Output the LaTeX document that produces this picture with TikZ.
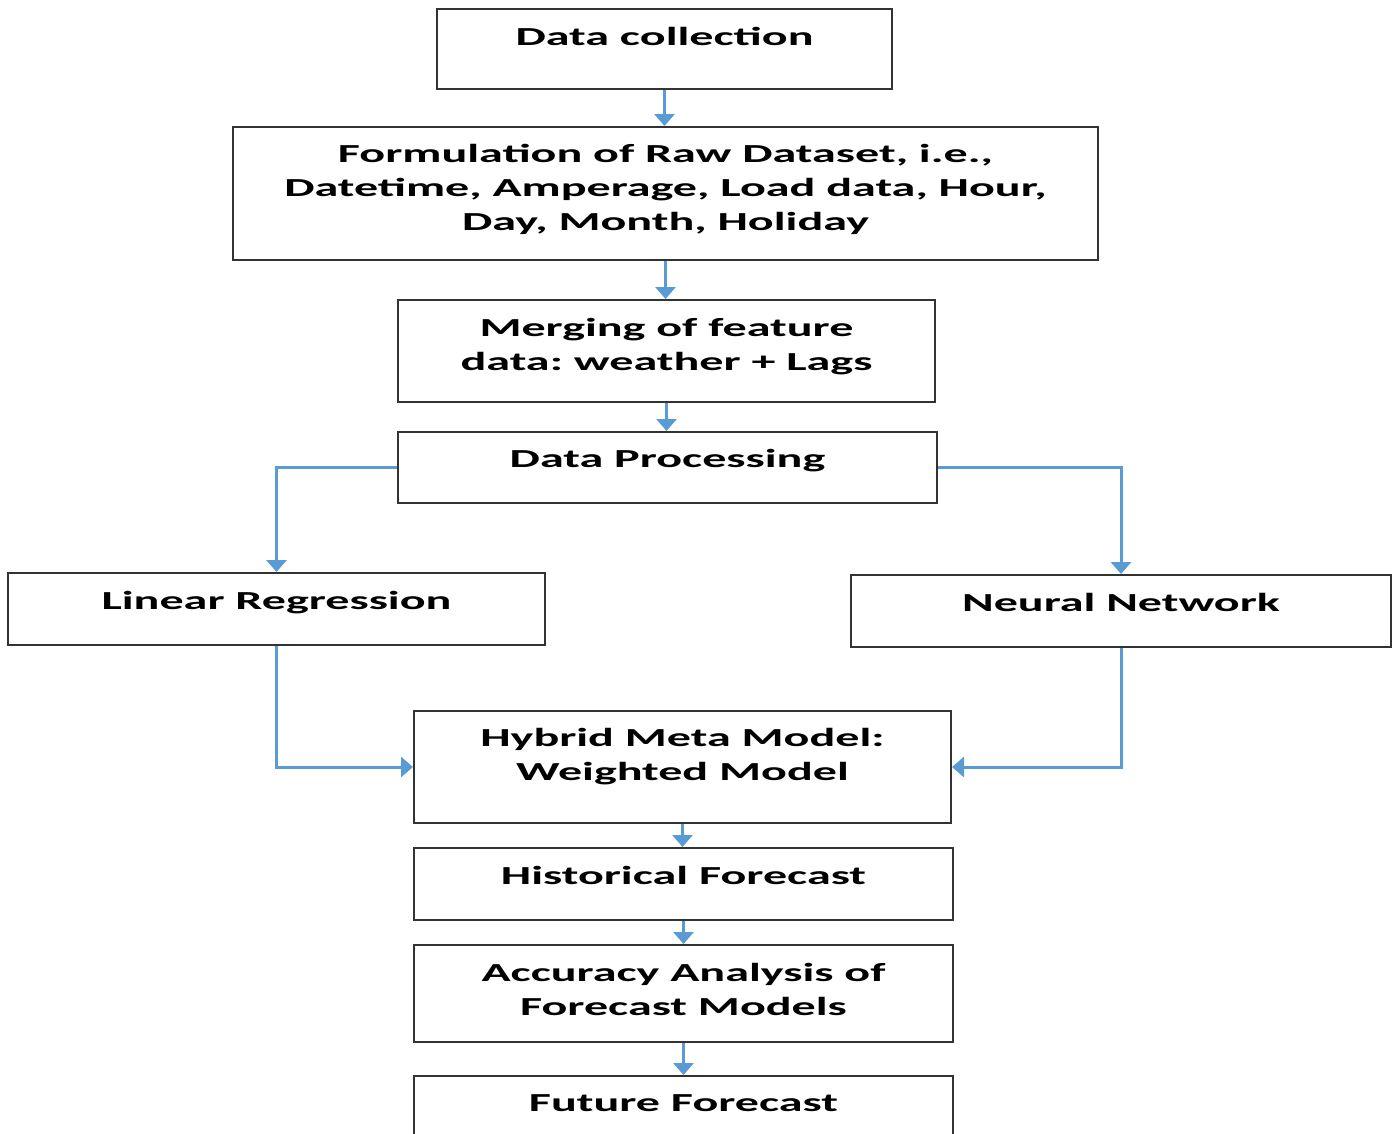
\documentclass[tikz,border=0pt]{standalone}
\usepackage{fontspec}
\newfontfamily\lblfont{Carlito}[FakeStretch=1.85]
\usetikzlibrary{arrows.meta,calc}
\definecolor{arrowblue}{HTML}{5B9BD5}
\definecolor{boxline}{HTML}{333333}
\tikzset{
  box/.style={draw=boxline, line width=2pt, fill=white, inner sep=0pt},
  lbl/.style={anchor=base, inner sep=0pt, font=\lblfont\bfseries\fontsize{26}{34}\selectfont\frenchspacing},
  conn/.style={draw=arrowblue, line width=3pt, -{Triangle[width=20pt,length=12pt]}},
}
\newcommand{\lines}[1]{\begin{tabular}[t]{@{}c@{}}#1\end{tabular}}
\begin{document}
\begin{tikzpicture}[x=1pt,y=-1pt]
\useasboundingbox (0,0) rectangle (1398,1133);
% boxes
\node[box, minimum width=455pt, minimum height=80pt] (dc) at (664.5,49) {};
\node[box, minimum width=865pt, minimum height=133pt] (form) at (665.5,193.5) {};
\node[box, minimum width=537pt, minimum height=102pt] (merge) at (666.5,351) {};
\node[box, minimum width=539pt, minimum height=71pt] (dp) at (667.5,467.5) {};
\node[box, minimum width=537pt, minimum height=72pt] (lr) at (276.5,609) {};
\node[box, minimum width=540pt, minimum height=72pt] (nn) at (1121,611) {};
\node[box, minimum width=537pt, minimum height=112pt] (hyb) at (682.5,767) {};
\node[box, minimum width=539pt, minimum height=72pt] (hist) at (683.5,884) {};
\node[box, minimum width=539pt, minimum height=97pt] (acc) at (683.5,993.5) {};
\node[box, minimum width=539pt, minimum height=114pt] (fut) at (683.5,1133) {};
% texts
\node[lbl] (dct) at (664.5,45) {\lines{Data collection}};
\node[lbl] (formt) at (665.5,162) {\lines{Formulation of Raw Dataset, i.e.,\\Datetime, Amperage, Load data, Hour,\\Day, Month, Holiday}};
\node[lbl] (merget) at (666.5,336) {\lines{Merging of feature\\data: weather + Lags}};
\node[lbl] (dpt) at (667.5,467) {\lines{Data Processing}};
\node[lbl] (lrt) at (276.5,609) {\lines{Linear Regression}};
\node[lbl] (nnt) at (1121,611) {\lines{Neural Network}};
\node[lbl] (hybt) at (682.5,746) {\lines{Hybrid Meta Model:\\Weighted Model}};
\node[lbl] (histt) at (683.5,884) {\lines{Historical Forecast}};
\node[lbl] (acct) at (683.5,981) {\lines{Accuracy Analysis of\\Forecast Models}};
\node[lbl] (futt) at (683.5,1111) {\lines{Future Forecast}};
% connectors
\draw[conn] (dc.south) -- (dc.south |- form.north);
\draw[conn] (form.south) -- (form.south |- merge.north);
\draw[conn] (merge.south) -- (merge.south |- dp.north);
\draw[conn] (dp.west) -| (lr.north);
\draw[conn] (dp.east) -| (nn.north);
\draw[conn] (lr.south) |- (hyb.west);
\draw[conn] (nn.south) |- (hyb.east);
\draw[conn] (hyb.south) -- (hyb.south |- hist.north);
\draw[conn] (hist.south) -- (hist.south |- acc.north);
\draw[conn] (acc.south) -- (acc.south |- fut.north);
\end{tikzpicture}
\end{document}
